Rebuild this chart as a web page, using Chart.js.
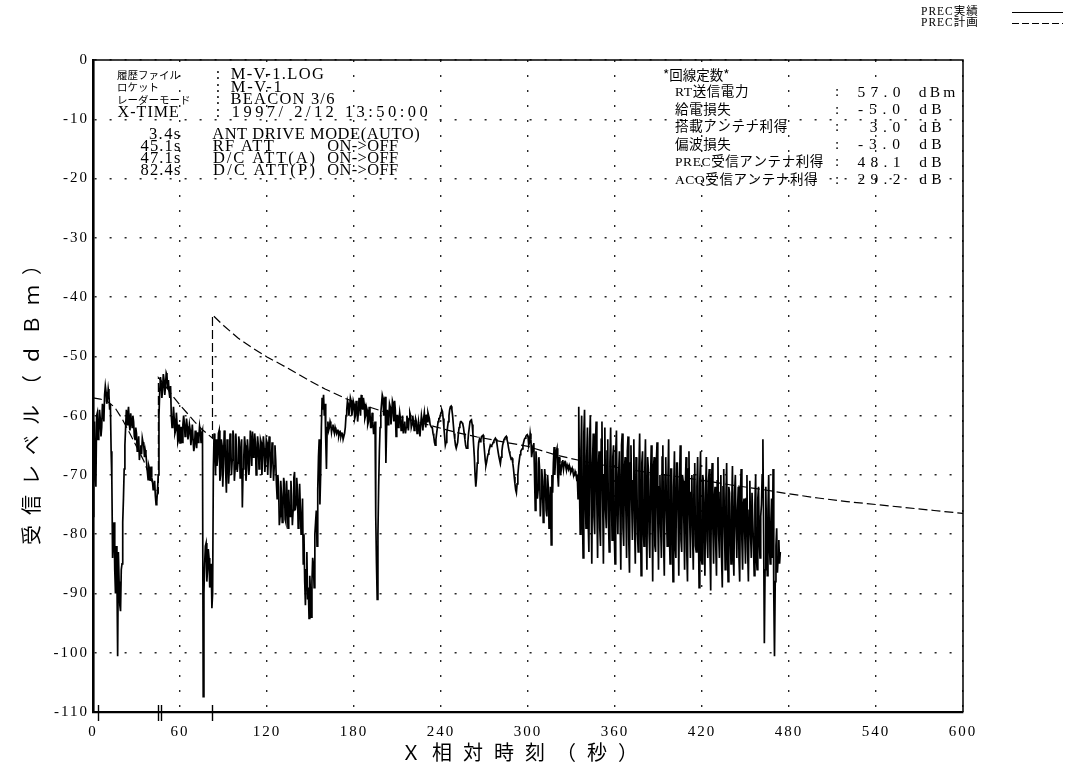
<!DOCTYPE html>
<html>
<head>
<meta charset="utf-8">
<title>PREC受信レベル</title>
<script src="https://cdn.jsdelivr.net/npm/chart.js@4.4.1/dist/chart.umd.min.js"></script>
<style>
  html, body { margin: 0; padding: 0; background: #fff; }
  canvas { display: block; }
</style>
</head>
<body>
<canvas id="c" width="1067" height="765"></canvas>
<script>
// ---- data -------------------------------------------------------------
// Measured PREC receive level (dBm): samples on the whole second (X+0 s, 1 s, ...)
const SAMPLE_STEP_S = 1;
const precActual = [
  -77, -61, -72, -59.5, -63, -60.5, -62, -59, -56.5, -56,
  -57, -56.5, -58, -71, -80, -86, -82, -100.6, -88, -93,
  -85, -74, -65, -59, -60, -61.3, -59.6, -62, -61, -64,
  -63, -65.5, -67.5, -65, -63.8, -65, -65.8, -68, -70.8, -69,
  -68.6, -71, -72.2, -73.5, -74.5, -70, -56, -54.5, -55.5, -54,
  -55, -53.2, -54, -57, -60, -61.5, -60.5, -62.5, -61.5, -64,
  -64.6, -62, -61.5, -61.3, -62.5, -61.8, -63, -62.4, -63.5, -64,
  -65.2, -64, -62.8, -63.5, -62.7, -63, -107.4, -85, -81.5, -86,
  -84, -88, -92.5, -69, -65, -64, -67, -62.5, -70, -65,
  -68, -63.5, -73, -66, -69, -64, -67.5, -63.5, -69, -65.5,
  -68, -64.5, -66.5, -75.5, -67, -65, -69, -66, -68, -64.5,
  -62.7, -66, -64.5, -67.5, -65, -68, -64.5, -66.5, -65.5, -67.5,
  -64.5, -66.5, -65.5, -68, -66.5, -68.5, -67.5, -74, -72, -77,
  -73.5, -76, -71.5, -78, -74.5, -72.5, -77, -73.5, -76, -69.5,
  -75, -72.5, -78, -75.5, -79, -85, -88, -86, -91, -94.2,
  -90, -88, -85, -80, -76, -72.5, -64, -70, -57, -56.5,
  -58, -69, -61, -62, -61.5, -62, -62.5, -62, -63, -62.5,
  -63, -63.5, -63, -64, -62, -59, -58, -58.5, -57.5, -59,
  -58, -60, -58.5, -59.5, -58, -56.5, -59, -58, -60, -59,
  -61, -59.5, -62, -61, -63, -77, -91, -72, -62, -58,
  -57, -59, -68, -59, -60.5, -58.5, -60, -58, -57.5, -63.5,
  -60, -61, -60.5, -62, -63, -61, -62, -61, -60.5, -60,
  -61.5, -61, -62, -61, -62.5, -62, -61.5, -61, -60.5, -61,
  -59.8, -59.5, -60.5, -61.5, -62, -63.5, -65, -63, -61, -60.5,
  -59.5, -59.3, -62, -65, -63, -61, -59, -58.4, -60, -63,
  -65, -65.5, -63, -61.5, -61, -61.4, -63, -65, -65.5, -63,
  -61, -60.7, -63, -67, -72, -68, -64.5, -64.4, -63.5, -63.3,
  -66, -68.4, -67, -66, -65, -65, -64.5, -64, -64, -65.5,
  -67, -68, -66, -64.5, -63.8, -63.5, -64.5, -66, -67, -67.2,
  -69, -71.5, -73, -70, -67.5, -66, -65.6, -64.5, -63.8, -63.3,
  -63.5, -64.5, -64, -66, -64.6, -76, -68, -72.5, -69, -74,
  -71, -75, -70.8, -77, -72, -75.3, -81.8, -73, -65.3, -67,
  -65.5, -72, -68, -69, -67.5, -68, -68.5, -68.3, -69, -68.8,
  -69.3, -69.5, -70, -69.8, -70.3, -58.5, -80, -60, -84, -59,
  -79, -62, -83, -60, -85, -63, -80, -61, -84, -66,
  -82, -61, -85, -62, -79, -64, -83, -62, -81, -65,
  -85, -62.5, -80, -66, -86, -63, -82, -67, -84, -63.5,
  -86.5, -65, -81, -64, -85, -68, -83, -63, -87, -66,
  -82, -64, -86, -69, -84, -65, -88, -67, -83, -64.5,
  -86, -70, -84, -65, -87, -67, -82, -64, -85, -69,
  -88, -66, -84, -68, -87, -65, -83, -71, -86, -67,
  -88, -66, -84, -70, -86, -68, -83, -67, -89, -66,
  -85, -71, -87, -67, -84, -69, -89.5, -68, -85, -72,
  -87, -67, -84, -70, -89, -69, -86, -68, -88, -73,
  -85, -68.5, -87, -70, -84, -72, -88, -69, -86, -74,
  -85, -70, -88, -71, -84, -73, -87, -70, -86, -72,
  -84, -75, -64, -98.4, -72, -87, -70, -85, -74, -69,
  -100.6, -82, -86.5, -81, -83
];

// Measured PREC receive level (dBm): samples on the half second (X+0.5 s, 1.5 s, ...)
const precHalf = [
  -66, -70, -60, -64, -59, -63.5, -58, -61, -55, -58,
  -55.5, -59, -66, -84, -78, -90, -87, -83, -92, -86,
  -78, -69, -62, -61.5, -58.5, -62.5, -61, -60, -63.5, -62,
  -66, -63.5, -66, -66.5, -64.5, -67, -66.5, -69.5, -68.5, -71,
  -70.5, -72.5, -71, -75, -72.5, -60, -53.5, -57, -53, -56.5,
  -52.8, -55.5, -56, -55, -62, -58.5, -63, -59.5, -64.5, -61.5,
  -62, -64.5, -60, -63.5, -60.5, -64, -61.5, -65, -61.5, -66,
  -62.5, -65.5, -64.5, -61.8, -64.5, -62.5, -90, -82, -88, -82.5,
  -89, -85, -90, -63, -70, -68.5, -63, -71, -64, -72,
  -62.5, -69.5, -64, -71.5, -63, -70, -62.5, -71, -63, -69.5,
  -63.5, -70.5, -64, -69, -63.5, -71, -64, -70, -62.5, -68.5,
  -67, -63, -70, -63.5, -69, -64, -70, -63.5, -69.5, -64,
  -70, -63.5, -70.5, -64.5, -71, -65, -71.5, -70, -78.5, -71,
  -78, -70.5, -77.5, -71, -79, -76.5, -71, -78.5, -70.5, -76,
  -70.5, -79, -71.5, -80, -74, -80, -92, -83, -89, -87,
  -94, -84, -89, -78, -82, -67, -75, -62, -59, -60,
  -64, -62, -62.5, -61, -62.8, -61.5, -63, -62.5, -62.5, -63.5,
  -62.8, -63, -64, -63, -60, -57.5, -60, -57, -60, -57.5,
  -60.5, -57.5, -61, -57, -60, -58, -57, -60.5, -58.5, -61.5,
  -58.5, -62, -59.5, -63, -61, -85, -80, -66, -59.5, -56.5,
  -60, -56.8, -62, -61.5, -58, -61.5, -57.5, -61, -59, -60,
  -62, -59.5, -62.5, -60, -61.5, -63, -60, -62.5, -59.5, -62,
  -60, -62.5, -60.5, -63, -61, -63.5, -60, -62.5, -59.5, -62,
  -61, -60, -61.5, -62, -63, -64.5, -64, -62, -60.5, -60,
  -59, -60.5, -63.5, -64.5, -62, -60, -58.5, -59, -61.5, -64,
  -65.5, -64.5, -62, -61, -61.2, -62, -64, -65.5, -64.5, -62,
  -60.8, -61.5, -65, -70, -70.5, -66, -64, -64, -63.4, -64.5,
  -67.5, -67.8, -66.5, -65.5, -65.2, -64.8, -64.2, -63.8, -64.6, -66.3,
  -67.6, -67, -65, -64, -63.6, -64, -65.3, -66.5, -67.3, -68,
  -70.3, -72.5, -71.5, -68.5, -66.6, -65.8, -65, -64, -63.5, -63.2,
  -65, -63, -67, -65, -70, -66, -74, -67, -77, -69,
  -78, -69, -76, -70, -79, -72, -70, -68, -70, -66,
  -70, -67, -70, -67.8, -69, -67.6, -69.2, -68.7, -68.4, -69.6,
  -68.9, -70.2, -69.4, -70.6, -74, -72, -66, -76, -63, -74,
  -67, -78, -64, -73, -68, -77, -65, -75, -69, -79,
  -64, -74, -70, -76, -66, -78, -68, -73, -67, -80,
  -66, -75, -70, -77, -65, -79, -69, -76, -66, -81,
  -68, -74, -71, -78, -67, -80, -69, -75, -68, -79,
  -70, -77, -67, -80, -71, -76, -69, -82, -68, -77,
  -72, -79, -67, -81, -70, -76, -71, -80, -69, -78,
  -72, -82, -68, -77, -71, -81, -70, -78, -72, -83,
  -69, -77, -73, -80, -70, -82, -72, -79, -71, -84,
  -70, -78, -73, -81, -71, -83, -72, -79, -74, -82,
  -71, -80, -73, -84, -72, -79, -74, -82, -72, -80,
  -75, -83, -73, -79, -76, -84, -73, -81, -75, -80,
  -74, -83, -76, -80, -73, -82, -75, -84, -74, -81,
  -77, -70, -80, -86, -80, -76, -82, -78, -84, -90,
  -88, -79, -84, -85
];

// Planned PREC level (dBm) at the listed times (s); repeated times are steps.
const planTimes = [
  0, 5, 10, 15, 20, 25, 30, 35, 40, 45.1,
  45.1, 50, 55, 60, 65, 70, 75, 82.4,
  82.4, 90, 100, 110, 120, 130, 140, 150, 160, 175,
  190, 205, 220, 235, 250, 265, 280, 300, 320, 340,
  360, 380, 400, 420, 440, 460, 480, 500, 520, 540,
  560, 580, 600
];
const planLevels = [
  -57, -57.2, -57.6, -58.6, -60.5, -62.8, -65.2, -67.6, -70.8, -73,
  -53.6, -55, -56.7, -58.2, -59.6, -61, -62.3, -63.8,
  -43, -44.8, -46.9, -48.6, -50.1, -51.4, -52.8, -54.2, -55.5, -57.2,
  -58.5, -59.7, -60.8, -61.8, -62.8, -63.6, -64.3, -65.2, -66.7, -67.8,
  -68.7, -69.5, -70.2, -70.9, -71.7, -72.4, -73.2, -73.9, -74.5, -75.0,
  -75.5, -76.0, -76.5
];

// Axis ticks
const xTickValues = [0, 60, 120, 180, 240, 300, 360, 420, 480, 540, 600];
const yTickValues = [0, -10, -20, -30, -40, -50, -60, -70, -80, -90, -100, -110];

// Header block
const headerKeys = ['履歴ファイル', 'ロケット', 'レーダーモード', 'X-TIME'];
const headerValues = ['M-V-1.LOG', 'M-V-1', 'BEACON 3/6', '1997/ 2/12 13:50:00'];

// Event log (time in s, item, state change)
const eventTimes = [3.4, 45.1, 47.1, 82.4];
const eventItems = ['ANT DRIVE MODE(AUTO)', 'RF ATT', 'D/C ATT(A)', 'D/C ATT(P)'];
const eventStates = ['', 'ON->OFF', 'ON->OFF', 'ON->OFF'];

// Link budget constants
const linkTitle = '*回線定数*';
const linkItems = ['RT送信電力', '給電損失', '搭載アンテナ利得', '偏波損失', 'PREC受信アンテナ利得', 'ACQ受信アンテナ利得'];
const linkValues = [57.0, -5.0, 3.0, -3.0, 48.1, 29.2];
const linkUnits = ['dBm', 'dB', 'dB', 'dB', 'dB', 'dB'];

const legendLabels = ['PREC実績', 'PREC計画'];

// ---- drawing helpers --------------------------------------------------
const SERIF = '"Liberation Serif", "DejaVu Serif", serif';
const CJK = '"Noto Sans CJK JP", "Noto Sans CJK SC", sans-serif';
const SERIF_CJK = '"Liberation Serif", "Noto Sans CJK JP", serif';
const TICK_LETTER_SPACING = 2;

function setSpacing(ctx, px) {
  if ('letterSpacing' in ctx) ctx.letterSpacing = px + 'px';
}

function drawText(ctx, str, x, y, font, opt = {}) {
  ctx.save();
  ctx.font = font;
  ctx.fillStyle = '#000';
  ctx.textBaseline = 'middle';
  ctx.textAlign = opt.align || 'left';
  setSpacing(ctx, opt.ls || 0);
  ctx.fillText(str, x, y);
  ctx.restore();
}

// Line-printer style text: every character takes the same cell width (pitch).
function drawPitched(ctx, str, x, y, size, pitch, align = 'left') {
  ctx.save();
  ctx.font = size + 'px ' + SERIF;
  ctx.fillStyle = '#000';
  ctx.textBaseline = 'middle';
  ctx.textAlign = 'left';
  setSpacing(ctx, 0);
  const n = [...str].length;
  const natural = ctx.measureText(str).width;
  const ls = (n * pitch - natural) / n;
  setSpacing(ctx, ls);
  const total = n * pitch;
  const x0 = align === 'right' ? x - total : align === 'center' ? x - total / 2 : x;
  ctx.fillText(str, x0 + ls / 2, y);
  ctx.restore();
}

const PLAN_DASH = [9, 4];

const decorations = {
  id: 'decorations',
  beforeDraw(chart) {
    const ctx = chart.ctx;
    ctx.save();
    ctx.fillStyle = '#fff';
    ctx.fillRect(0, 0, chart.width, chart.height);
    ctx.restore();
    // spaced digits on the axis tick labels
    setSpacing(ctx, TICK_LETTER_SPACING);
  },
  beforeDatasetsDraw(chart) {
    setSpacing(chart.ctx, 0);
  },
  afterDraw(chart) {
    const { ctx, chartArea: a, scales: { x } } = chart;
    setSpacing(ctx, 0);

    // plot frame (top and right)
    ctx.save();
    ctx.strokeStyle = '#000';
    ctx.lineWidth = 1.5;
    ctx.beginPath();
    ctx.moveTo(a.left, a.top);
    ctx.lineTo(a.right, a.top);
    ctx.lineTo(a.right, a.bottom);
    ctx.stroke();

    // event markers on the time axis
    ctx.lineWidth = 1.4;
    eventTimes.forEach(t => {
      const px = Math.round(x.getPixelForValue(t)) + 0.5;
      ctx.beginPath();
      ctx.moveTo(px, a.bottom - 7);
      ctx.lineTo(px, a.bottom + 9);
      ctx.stroke();
    });
    ctx.restore();

    // header block
    const hRows = [75, 87.5, 100, 112.5];
    headerKeys.forEach((k, i) => {
      const isLatin = /^[\x20-\x7e]+$/.test(k);
      if (isLatin) drawPitched(ctx, k, 117, hRows[i], 16, 10.4);
      else drawText(ctx, k, 117, hRows[i], '10.5px ' + CJK);
      drawPitched(ctx, ':', 218, hRows[i], 16, 8, 'center');
      drawPitched(ctx, headerValues[i], 230, hRows[i], 16.5, 10.5);
    });

    // event log
    const eRows = [135, 147, 158.5, 170.5];
    eventTimes.forEach((t, i) => {
      drawPitched(ctx, t.toFixed(1) + 's', 181, eRows[i], 16.5, 8.2, 'right');
      drawPitched(ctx, eventItems[i], 212, eRows[i], 16.5, 10.4);
      if (eventStates[i]) drawPitched(ctx, eventStates[i], 327, eRows[i], 16.5, 10.2);
    });

    // link budget block
    drawText(ctx, linkTitle, 663, 75, '13.5px ' + CJK);
    const lRows = [92.5, 110, 127.5, 145, 162.5, 180];
    linkItems.forEach((k, i) => {
      drawText(ctx, k, 675, lRows[i], '13.5px ' + SERIF_CJK, { ls: 0.6 });
      drawPitched(ctx, ':', 837, lRows[i], 15, 8, 'center');
      drawPitched(ctx, linkValues[i].toFixed(1), 903, lRows[i], 15.5, 12, 'right');
      drawPitched(ctx, linkUnits[i], 917, lRows[i], 15.5, 13.3);
    });

    // axis titles
    ctx.save();
    ctx.translate(31, 400);
    ctx.rotate(-Math.PI / 2);
    drawText(ctx, '受信レベル（ｄＢｍ）', 5, 0, '20px ' + CJK, { align: 'center', ls: 10 });
    ctx.restore();
    drawText(ctx, 'Ｘ相対時刻（秒）', 525, 752, '20px ' + CJK, { align: 'center', ls: 11 });

    // legend
    const legY = [12, 23];
    legendLabels.forEach((lab, i) => {
      drawText(ctx, lab, 921, legY[i], '11.5px ' + SERIF_CJK, { ls: 1 });
      ctx.save();
      ctx.strokeStyle = '#000';
      ctx.lineWidth = 1.1;
      ctx.setLineDash(i === 0 ? [] : [7, 3]);
      ctx.beginPath();
      ctx.moveTo(1012, legY[i] + 0.5);
      ctx.lineTo(1063, legY[i] + 0.5);
      ctx.stroke();
      ctx.restore();
    });
  }
};

// ---- chart ------------------------------------------------------------
const actualPoints = [];
precActual.forEach((v, i) => {
  actualPoints.push({ x: i * SAMPLE_STEP_S, y: v });
  if (i < precHalf.length) actualPoints.push({ x: (i + 0.5) * SAMPLE_STEP_S, y: precHalf[i] });
});
const planPoints = planTimes.map((t, i) => ({ x: t, y: planLevels[i] }));

const gridStyle = { color: '#262626', lineWidth: 1.4, drawTicks: false };
const tickFont = { family: 'Liberation Serif', size: 15 };

new Chart(document.getElementById('c'), {
  type: 'line',
  data: {
    datasets: [
      {
        label: legendLabels[0],
        data: actualPoints,
        borderColor: '#000',
        borderWidth: 1.7,
        pointRadius: 0,
        tension: 0,
        fill: false
      },
      {
        label: legendLabels[1],
        data: planPoints,
        borderColor: '#000',
        borderWidth: 1.2,
        borderDash: PLAN_DASH,
        pointRadius: 0,
        tension: 0,
        fill: false
      }
    ]
  },
  options: {
    responsive: false,
    animation: false,
    devicePixelRatio: 1,
    parsing: false,
    layout: { padding: { top: 60, right: 104, bottom: 0, left: 0 } },
    plugins: {
      legend: { display: false },
      tooltip: { enabled: false },
      title: { display: false }
    },
    scales: {
      x: {
        type: 'linear',
        min: 0,
        max: 600,
        afterBuildTicks(scale) { scale.ticks = xTickValues.map(v => ({ value: v })); },
        afterFit(scale) { scale.height = 53; },
        ticks: {
          color: '#000',
          font: tickFont,
          padding: 11,
          maxRotation: 0,
          autoSkip: false,
          callback: v => String(v)
        },
        grid: gridStyle,
        border: { display: true, color: '#000', width: 2.2, dash: [2, 13] }
      },
      y: {
        type: 'linear',
        min: -110,
        max: 0,
        afterBuildTicks(scale) { scale.ticks = yTickValues.map(v => ({ value: v })); },
        afterFit(scale) { scale.width = 93; },
        ticks: {
          color: '#000',
          font: tickFont,
          padding: 4,
          autoSkip: false,
          callback: v => String(v)
        },
        grid: gridStyle,
        border: { display: true, color: '#000', width: 2.6, dash: [2, 13] }
      }
    }
  },
  plugins: [decorations]
});
</script>
</body>
</html>
